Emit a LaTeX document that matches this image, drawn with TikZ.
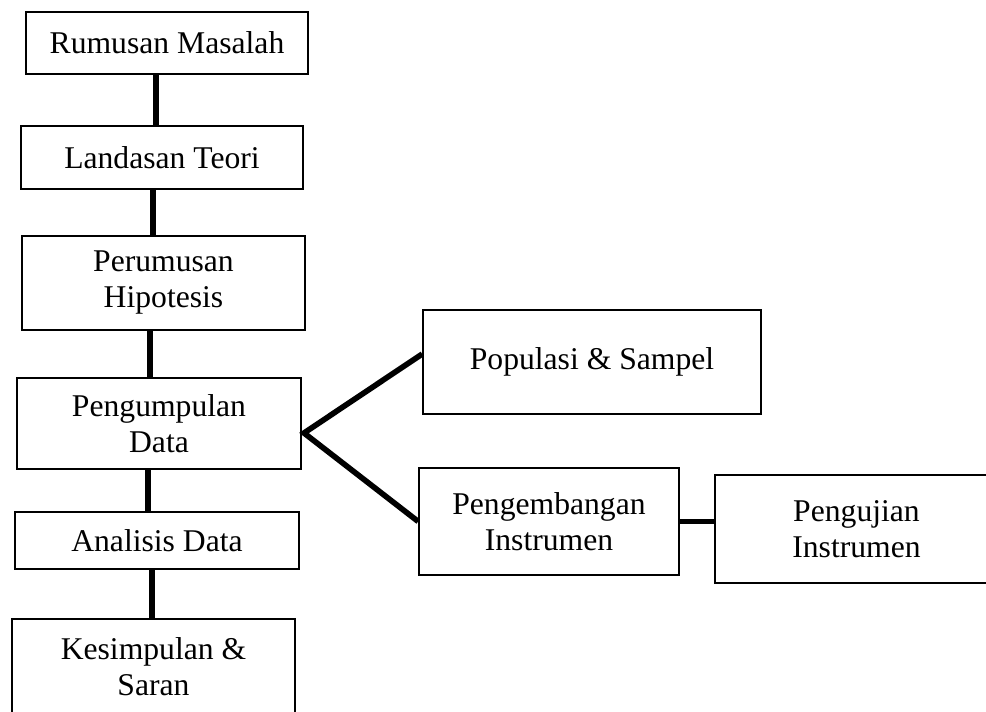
\documentclass[tikz,border=0pt]{standalone}
\usepackage{fontspec}
\setmainfont{Liberation Serif}
\usetikzlibrary{calc}
\tikzset{box/.style={draw,line width=1.1pt,inner sep=0pt,align=center,font=\fontsize{22.5}{25.6}\selectfont},
 link/.style={line width=4pt}}
\begin{document}
\begin{tikzpicture}[x=0.025cm,y=-0.025cm]
\clip (0,0) rectangle (986,711);
\node[box,minimum width=7.05cm,minimum height=1.55cm](rm) at (167,43){Rumusan Masalah};
\node[box,minimum width=7.05cm,minimum height=1.575cm](lt) at (162,157.5){Landasan Teori};
\node[box,minimum width=7.075cm,minimum height=2.35cm](ph) at (163.5,283){Perumusan\\Hipotesis};
\node[box,minimum width=7.1cm,minimum height=2.275cm](pd) at (159,423.5){Pengumpulan\\Data};
\node[box,minimum width=7.1cm,minimum height=1.425cm](ad) at (157,540.5){Analisis Data};
\node[box,minimum width=7.075cm,minimum height=2.375cm](ks) at (153.5,666.5){Kesimpulan \&\\Saran};
\node[box,minimum width=8.45cm,minimum height=2.6cm](ps) at (592,362){Populasi \& Sampel};
\node[box,minimum width=6.5cm,minimum height=2.675cm](pi) at (549,521.5){Pengembangan\\Instrumen};
\node[box,minimum width=7.075cm,minimum height=2.7cm](pu) at (856.5,529){Pengujian\\Instrumen};
\coordinate (fork) at (304,433);
\foreach \from/\to/\dx in {rm/lt/-11,lt/ph/-9,ph/pd/-13.5,pd/ad/-11,ad/ks/-5}
 \draw[link] ($(\from.south)+(\dx,0)$) coordinate (a) -- (a |- \to.north);
\draw[link] ($(ps.west)+(0,-8)$) -- (fork) -- (pi.west);
\draw[link] (pi.east) -- (pi.east -| pu.west);
\end{tikzpicture}
\end{document}
